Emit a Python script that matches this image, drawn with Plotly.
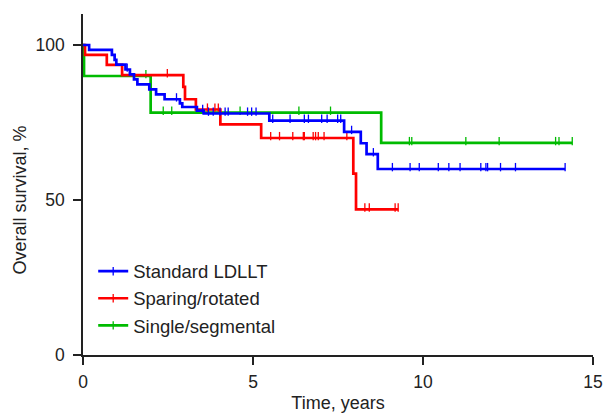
import bisect
import plotly.graph_objects as go

# ---------------- data ----------------
names = ["Standard LDLLT", "Sparing/rotated", "Single/segmental"]
colors = ["#0000FF", "#FF0000", "#00BB00"]

blue_t = [0, 0.18, 0.85, 0.93, 0.98, 1.25, 1.38, 1.5, 1.6, 1.95, 2.15, 2.4,
          2.85, 2.92, 3.35, 3.55, 5.48, 7.68, 8.17, 8.34, 8.67]
blue_s = [100, 98.4, 96.8, 95.2, 93.7, 92.1, 90.5, 88.9, 87.3, 85.7, 84.1, 82.5,
          81.2, 80.0, 78.8, 77.9, 75.6, 72.0, 68.3, 64.8, 60.0]
blue_end = 14.18
blue_cens = [1.3, 2.75, 3.52, 3.69, 3.83, 4.03, 4.18, 4.27, 4.84, 4.96, 5.09,
             5.58, 6.09, 6.51, 6.63, 7.02, 7.18, 7.49, 7.58, 7.9, 8.54,
             9.1, 9.62, 9.89, 10.45, 10.76, 11.09, 11.7, 11.85, 11.9, 12.28,
             12.72, 14.18]

red_t = [0, 0.06, 0.7, 1.15, 2.95, 3.0, 3.32, 4.04, 5.24, 7.95, 8.03]
red_s = [100, 96.8, 93.6, 90.3, 86.5, 82.5, 79.2, 74.4, 70.0, 58.5, 47.0]
red_end = 9.27
red_cens = [2.48, 3.66, 3.88, 3.98, 5.52, 5.78, 6.17, 6.48, 6.51, 6.77, 6.84,
            6.92, 7.09, 7.76, 8.29, 8.42, 9.18, 9.27]

green_t = [0, 0.03, 1.99, 8.77]
green_s = [100, 90.0, 78.2, 68.4]
green_end = 14.39
green_cens = [1.85, 2.36, 2.61, 4.62, 6.35, 7.28, 9.6, 9.67, 11.26, 12.24,
              13.9, 14.0, 14.39]

x_ticks = [0, 5, 10, 15]
y_ticks = [0, 50, 100]
x_title = "Time, years"
y_title = "Overall survival, %"
y_title_at = 50          # the y title is centred on this value

groups = [
    (blue_t, blue_s, blue_end, blue_cens),
    (red_t, red_s, red_end, red_cens),
    (green_t, green_s, green_end, green_cens),
]

TICK_LIFT = 0.6  # small upward lift so censor ticks sit on top of the line


def surv_at(t, s, x):
    i = bisect.bisect_right(t, x) - 1
    return s[max(i, 0)]


fig = go.Figure()
FONT = "Liberation Sans, Arial, Helvetica, sans-serif"
TXT = "#222222"

# draw order: green (bottom), red, blue (top)
for idx in [2, 1, 0]:
    t, s, end, cens = groups[idx]
    fig.add_trace(go.Scatter(
        x=list(t) + [end], y=list(s) + [s[-1]],
        mode="lines", line=dict(color=colors[idx], width=2.7, shape="hv"),
        showlegend=False, hoverinfo="skip"))
    fig.add_trace(go.Scatter(
        x=cens, y=[surv_at(t, s, c) + TICK_LIFT for c in cens],
        mode="markers",
        marker=dict(symbol="line-ns", size=6,
                    line=dict(color=colors[idx], width=1.3)),
        showlegend=False, hoverinfo="skip", cliponaxis=False))

# legend entries
for idx in [0, 1, 2]:
    fig.add_trace(go.Scatter(
        x=[None], y=[None], name=names[idx], mode="lines+markers",
        line=dict(color=colors[idx], width=2.7),
        marker=dict(symbol="line-ns", size=6,
                    line=dict(color=colors[idx], width=1.3))))

axis_common = dict(
    showgrid=False, zeroline=False, showline=True,
    linecolor=TXT, linewidth=1.5,
    ticks="outside", ticklen=8, tickwidth=1.5, tickcolor=TXT,
    tickfont=dict(family=FONT, size=17.5, color=TXT),
)

fig.update_layout(
    width=604, height=415,
    margin=dict(l=83, r=11, t=14, b=60),
    paper_bgcolor="white", plot_bgcolor="white",
    font=dict(family=FONT, size=18, color=TXT),
    xaxis=dict(range=[0, 15], tickvals=x_ticks, automargin=False,
               ticklabelstandoff=2,
               title=dict(text=x_title, standoff=6,
                          font=dict(family=FONT, size=18, color=TXT)),
               **axis_common),
    yaxis=dict(range=[0, 110], tickvals=y_ticks, automargin=False,
               ticklabelstandoff=5,
               **axis_common),
    legend=dict(x=0.02, y=0.30, xanchor="left", yanchor="top",
                bgcolor="rgba(0,0,0,0)", tracegroupgap=0,
                font=dict(family=FONT, size=18.5, color=TXT)),
    annotations=[dict(
        text=y_title, textangle=-90, showarrow=False,
        xref="paper", yref="y", x=(19.5 - 83) / 510, y=y_title_at,
        xanchor="center", yanchor="middle",
        font=dict(family=FONT, size=18, color=TXT))],
)

fig.write_html("out.html")
